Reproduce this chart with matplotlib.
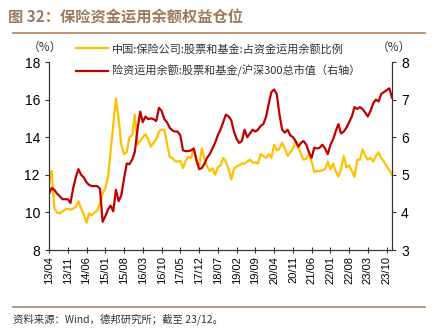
import numpy as np
import pandas as pd
import matplotlib
matplotlib.use("Agg")
import matplotlib.pyplot as plt
import matplotlib.dates as mdates
from matplotlib.lines import Line2D

plt.rcParams["font.family"] = ["Liberation Sans", "Noto Sans CJK SC", "DejaVu Sans"]

# monthly, 2013-04 .. 2023-12
months = pd.date_range("2013-04-01", "2023-12-01", freq="MS")

# 股票和基金占资金运用余额比例 (%), left axis
equity_share = [
    11.5, 12.2, 10.2, 10.0, 9.95, 10.05, 10.15, 10.2, 10.15, 10.2,
    10.3, 10.6, 10.2, 9.9, 9.45, 9.95, 9.85, 10.0, 10.1, 10.5,
    11.0, 11.3, 11.9, 13.2, 14.6, 16.05, 15.0, 13.6, 13.1, 13.2,
    14.0, 14.1, 15.2, 13.6, 13.8, 14.0, 14.15, 13.9, 13.5, 13.7,
    13.9, 14.3, 14.4, 14.4, 13.7, 12.95, 12.9, 12.75, 12.7, 12.75,
    12.35, 12.75, 12.95, 12.9, 13.4, 12.7, 12.5, 13.4, 12.8, 12.45,
    12.2, 12.35, 12.0, 12.4, 12.5, 12.9, 12.7, 12.3, 11.75, 12.3,
    12.45, 12.5, 12.6, 12.6, 12.7, 12.8, 12.65, 12.65, 12.6, 13.1,
    13.0, 12.9, 13.1, 12.9, 13.6, 13.3, 13.4, 13.7, 13.4, 13.0,
    13.2, 13.4, 13.8, 13.45, 13.1, 12.8, 12.85, 13.1, 12.7, 12.15,
    12.2, 12.2, 12.25, 12.3, 12.7, 12.3, 12.6, 12.2, 11.9, 12.3,
    13.0, 12.4, 12.5, 12.2, 11.9, 12.8, 12.8, 13.35, 13.0, 12.8,
    12.9, 12.7, 13.0, 13.2, 12.9, 12.7, 12.45, 12.25, 12.0,
]

# 险资股票和基金 / 沪深300总市值 (%), right axis
equity_to_csi300 = [
    4.5, 4.65, 4.6, 4.5, 4.43, 4.35, 4.35, 4.35, 4.25, 4.65,
    4.95, 5.15, 5.0, 4.93, 4.8, 4.73, 4.7, 4.7, 4.7, 4.63,
    3.75, 3.9, 4.08, 4.18, 4.03, 4.6, 4.3, 4.45, 4.9, 5.3,
    5.28, 5.4, 5.6, 6.2, 6.68, 6.4, 6.55, 6.48, 6.5, 6.48,
    6.43, 6.78, 6.7, 6.48, 6.4, 6.25, 6.18, 6.15, 6.15, 6.05,
    5.65, 5.63, 5.63, 5.65, 5.7, 5.4, 5.15, 5.18, 5.3, 5.45,
    5.55, 5.7, 5.85, 6.05, 6.2, 6.4, 6.6, 6.55, 6.45, 6.15,
    5.95, 5.85, 5.9, 6.2, 6.0, 6.1, 6.2, 6.15, 6.2, 6.3,
    6.35, 6.55, 6.9, 7.2, 7.27, 7.15, 6.6, 6.2, 6.12, 6.2,
    6.05, 6.0, 5.9, 5.75, 5.85, 5.9, 5.8, 5.6, 5.45, 5.72,
    5.7, 5.72, 5.8, 5.7, 5.55, 5.8, 5.95, 6.15, 6.35, 6.1,
    6.15, 6.25, 6.4, 6.55, 6.8, 6.75, 6.8, 6.75, 6.65, 6.55,
    6.7, 6.9, 7.0, 6.95, 7.15, 7.2, 7.25, 7.3, 7.05,
]

label_left = "中国:保险公司:股票和基金:占资金运用余额比例"
label_right = "险资运用余额:股票和基金/沪深300总市值（右轴）"

yellow = "#FFC000"
red = "#C00000"
brown = "#B0805A"
cjk = ["Noto Sans CJK SC", "DejaVu Sans"]

fig = plt.figure(figsize=(4.32, 3.29), dpi=100)
ax = fig.add_axes([49 / 432, 1 - 250 / 329, (392 - 49) / 432, (250 - 62) / 329])
ax2 = ax.twinx()

ax.plot(months, equity_share, color=yellow, lw=1.6)
ax2.plot(months, equity_to_csi300, color=red, lw=1.6)

ax.set_ylim(8, 18)
ax.set_yticks(np.arange(8, 19, 2))
ax2.set_ylim(3, 8)
ax2.set_yticks(np.arange(3, 9, 1))
ax.set_xlim(months[0], months[-1])
ax.set_xticks(months[::7])
ax.xaxis.set_major_formatter(mdates.DateFormatter("%y/%m"))

for a in (ax, ax2):
    a.spines["top"].set_visible(False)
    for s in a.spines.values():
        s.set_color("#333333")
        s.set_linewidth(0.8)
ax.tick_params(axis="x", direction="inout", length=5, width=0.8, labelsize=8,
               rotation=90, pad=2, colors="#333333", labelcolor="black")
ax.tick_params(axis="y", direction="out", length=3, width=0.8, labelsize=10,
               colors="#333333", labelcolor="black")
ax2.tick_params(axis="y", direction="out", length=3, width=0.8, labelsize=10,
                colors="#333333", labelcolor="black")

fig.text(45 / 432, 1 - 47 / 329, "（%）", ha="center", va="center",
         fontsize=8.5, family=cjk, color="#333333")
fig.text(394 / 432, 1 - 47 / 329, "（%）", ha="center", va="center",
         fontsize=8.5, family=cjk, color="#333333")

handles = [Line2D([], [], color=yellow, lw=1.6), Line2D([], [], color=red, lw=1.6)]
fig.legend(handles, [label_left, label_right], loc="upper left",
           bbox_to_anchor=(70 / 432, 1 - 38 / 329), frameon=False,
           prop={"family": cjk, "size": 8}, handlelength=2.9,
           handletextpad=0.4, labelspacing=0.95, borderpad=0,
           labelcolor="#333333")

fig.text(8 / 432, 1 - 18 / 329, "图 32：保险资金运用余额权益仓位", ha="left",
         va="center", fontsize=11, fontweight="bold", family=cjk, color="#9C7A5C")
fig.add_artist(Line2D([13 / 432, 425 / 432], [1 - 33 / 329] * 2,
                      color=brown, lw=1.2))
fig.add_artist(Line2D([13 / 432, 425 / 432], [1 - 307 / 329] * 2,
                      color=brown, lw=1.2))
fig.text(13 / 432, 1 - 319 / 329, "资料来源：Wind，德邦研究所；截至 23/12。",
         ha="left", va="center", fontsize=7.5, family=cjk, color="#333333")

fig.savefig("out.png", dpi=100)
